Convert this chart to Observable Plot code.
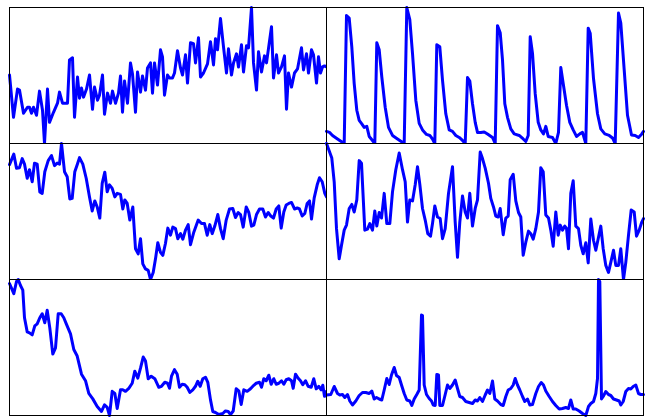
<!DOCTYPE html>
<html><head><meta charset="utf-8">
<script src="https://cdn.jsdelivr.net/npm/d3@7"></script>
<script src="https://cdn.jsdelivr.net/npm/@observablehq/plot@0.6"></script>
<style>
html,body{margin:0;padding:0;background:#fff;}
#chart{position:relative;width:647px;height:417px;background:#fff;overflow:hidden;}
#chart svg{position:absolute;overflow:visible;}
</style></head><body><div id="chart"></div>
<script>
// Each series: [time, value] pairs
const seriesTopLeft = [[0,68],[4,26],[8,54],[10,53],[14,30],[18,36],[20,36],[22,30],[24,36],[27,28],[30,52],[33,33],[35,0],[38,54],[40,21],[44,31],[48,40],[50,51],[53,40],[58,40],[60,83],[63,85],[65,26],[68,66],[70,45],[72,55],[74,46],[77,54],[80,68],[83,34],[85,56],[88,43],[90,48],[93,68],[95,29],[98,50],[101,40],[103,52],[106,40],[109,50],[111,67],[113,31],[115,62],[118,40],[121,80],[123,69],[126,31],[128,71],[131,51],[133,67],[136,53],[138,75],[141,80],[143,50],[145,80],[148,58],[151,93],[153,86],[155,48],[158,68],[160,65],[163,65],[165,70],[168,92],[171,75],[173,68],[176,88],[178,60],[181,100],[184,99],[186,80],[189,105],[191,66],[194,70],[198,79],[201,101],[204,78],[206,104],[208,93],[211,124],[214,96],[217,70],[219,94],[222,68],[224,80],[227,89],[229,76],[232,98],[234,71],[237,97],[239,95],[242,135],[244,80],[247,53],[249,91],[252,71],[255,87],[257,80],[262,116],[264,65],[267,88],[269,70],[272,76],[275,87],[277,34],[279,70],[282,56],[285,70],[288,74],[292,95],[294,73],[297,89],[299,70],[302,93],[304,88],[307,60],[309,86],[311,70],[313,76],[315,77],[317,76]];

const seriesTopRight = [[0,12],[3,11],[6,8],[11,4.5],[17.7,0],[20,127],[22.7,124.5],[25.3,96],[27.7,59.5],[30.3,33],[32.7,23],[35.3,19.5],[37.7,16],[40.3,17],[42.7,7],[46,3],[48.3,0],[50.3,100],[52.7,93],[55.3,66],[58.7,36],[62,16],[66,8],[71,4.5],[77.7,0],[80.3,135],[83.3,123],[86,89.5],[89.3,43],[92.7,20],[96,13.5],[100,9],[103.3,8],[106,4.5],[108.3,0],[110.3,98],[113.3,96],[116,63],[119.3,29.5],[122.7,13.5],[126,12],[129.3,8],[132.7,6],[136,3],[138.7,0],[141,65.5],[143.3,62],[146,39.5],[148.7,21],[151,11],[154.3,11],[157.7,11.5],[161,9.5],[166,6],[168.7,0],[171,117],[173.7,110],[176,83],[178.3,39.5],[181,26],[184.3,14.5],[187.7,9.5],[192.7,8],[196.7,4.5],[199.3,2],[201.7,8],[203.7,106],[206,89.5],[208.7,49.5],[211.7,21],[214.3,13.5],[217,9.5],[219.3,17],[221.7,7],[226,6],[229.3,0],[232,11],[234.3,75.5],[236.7,59.5],[240,38],[243.3,21],[246.7,13.5],[250,7],[253.3,9.5],[256,11],[259.3,0],[261.7,114.5],[263.7,109.5],[267,64.5],[271,29.5],[274.3,14.5],[278.3,9.5],[282.7,8],[286,5.5],[288.7,0],[292,129.5],[294.3,119.5],[297.7,73],[301,28],[305,8.5],[308.7,8],[312,6],[315.3,9.5],[317,12]];

const seriesMidLeft = [[0,114],[4.3,124.5],[7,110.5],[10,111],[12.7,120],[15,114.5],[17.7,100.5],[20,109],[22.7,97],[25,115.5],[27.7,114.5],[30.3,87],[32.7,85.5],[35.3,107],[38.7,118],[42,123],[45,113],[47.7,115.5],[50,114.5],[52,135],[55,107],[57.7,102],[60.3,80],[62.7,80.5],[65.3,107],[67.7,114],[70,121],[73.3,114.5],[76.7,100.5],[80,82],[82.7,68],[85.3,78],[87.7,72],[90.3,61],[92.7,95.5],[95.3,106.5],[97.7,87],[100,94],[102.7,90.5],[105.3,82],[107.7,85.5],[111,84.5],[113.3,70],[115.3,79],[117.7,75.5],[120.3,59],[123.3,72],[126,30.5],[128.7,25.5],[131,40.5],[133.3,15.5],[136,10.5],[138.7,9],[141,0],[143.7,7],[146,20.5],[148.3,36.5],[151,27],[153.3,24],[156,36],[158.3,51],[161,44],[163.3,52],[166,50.5],[168.3,40.5],[171,45.5],[173.3,40],[176,49],[178.7,54.5],[181,34.5],[184.3,47],[188.7,59],[192,55.5],[195,55.5],[197.7,44],[200.3,54.5],[202.7,45.5],[205.3,53],[208.3,64.5],[211,50.5],[213.7,40.5],[216.7,59],[220,70],[223.3,70.5],[226,61.5],[228.7,66.5],[231,64.5],[233.7,52],[236.7,72],[239.3,66.5],[242,53],[244.3,54],[247,64.5],[250,70],[253.3,70],[256,62],[258.7,66.5],[261.3,63],[264,61],[266.7,70],[269.3,73],[271.7,51],[274.3,67],[276.7,74],[279.3,75.5],[282,76.5],[285,70],[287.7,71],[290,70],[292.7,63],[295.3,65.5],[297.7,75.5],[300,78],[302,60],[304.7,81],[307.7,94],[310,101],[312.7,97],[315.3,85.5],[317,82]];

const seriesMidRight = [[0,135],[5.3,120.5],[7.7,97],[10,50.5],[12.7,20.5],[15,34],[17.7,49],[20,54],[22.7,70.5],[25.3,74.5],[27.7,67],[30.3,79],[32.7,118],[35,115.5],[38.3,49],[41,50],[43.3,55.5],[46,49],[48.3,68],[50.3,53],[52.7,66.5],[55,61],[57.7,85.5],[60.3,55.5],[63.3,55.5],[66,87],[69.3,109],[72.7,125.5],[76,109],[78.7,97],[81,57],[83.3,79],[86,78],[88.7,94],[91,112],[93.3,94.5],[96,70.5],[98.7,59],[101.3,45.5],[104,43],[106,55.5],[108.3,73],[111,62],[113.7,60.5],[116,40.5],[118.7,50.5],[122,85.5],[126,112],[128.7,57],[131,22],[133.3,57],[136,83],[138.7,67],[141,61],[143.3,85.5],[146,53],[148.7,70.5],[151,79],[153.7,126.5],[156,120],[158.7,110.5],[162,95.5],[164.3,80.5],[167,72],[169.3,63],[171.7,62],[173.7,70.5],[176.7,44.5],[179.3,61],[181.7,63],[183.7,99],[186.7,104.5],[189.3,78],[192,66.5],[194.3,62],[196.7,24],[199.3,37],[202,48],[204.3,45.5],[206.7,40],[209.3,50.5],[212,67],[214.3,111],[216.7,107],[219.3,64],[222,61],[224.3,49],[226.7,33],[229.3,67],[231.7,44],[233.7,54],[236,49],[238.3,53],[240,51],[242,30.5],[244.3,85.5],[246.7,98],[249.3,53],[252,50.5],[254.3,34],[256.7,25.5],[259.3,36.5],[261.7,16.5],[264.3,60],[267,39],[269.3,29],[271.7,40.5],[274.3,53],[276.7,30.5],[279.3,14],[282,7],[284.3,17],[287,29],[289.3,14],[292,14],[294.3,30.5],[297,0],[299.3,17],[302,44],[304.7,69],[307.7,67],[310,43],[312.7,49],[315.3,57],[317,60.5]];

const seriesBottomLeft = [[0,131],[4.3,121],[7,133],[8.7,135],[11,129],[13.3,124.5],[15,97],[17.7,83],[20,82],[22.7,80],[25.3,89],[27.7,91],[30.3,97],[32.7,101],[35.3,92],[37.7,104.5],[40.3,87],[43.3,61],[46,67],[48.7,101],[51.7,101],[54.3,97],[57,90.5],[61,81],[64.3,65.5],[67.7,59],[72,41],[76,34.5],[79.3,22],[83.3,16.5],[87.7,9],[92,4],[95,10.5],[97.7,8],[100,0],[102.7,24],[105.3,22],[107.7,7],[111,25.5],[113.3,25.5],[116,24],[119.3,27],[122.7,32],[125.3,44],[128.3,37],[131,47],[133.7,58],[136,54],[138.7,36.5],[141.7,39],[145.3,36.5],[149.3,28],[152,29],[155.3,33],[158,32],[160,27],[162,39],[165,45.5],[167.7,41],[170,28],[172.7,31],[175.3,30.5],[177.7,28],[180.3,23],[183.3,25.5],[186,29],[188.3,34],[190.7,29],[193.3,36.5],[196,38],[198.3,33],[201,15.5],[203.3,4],[206,3],[209.3,1],[213.3,2],[216,4.5],[218.7,4],[221,1],[223.7,4.5],[226.7,26.5],[229.3,24.5],[231.7,11],[234.3,25.5],[237.7,24],[241,26.5],[244.3,30],[246.7,32],[250,33],[252,28],[254.3,36.5],[256.7,34.5],[259.3,40],[261.7,31],[264.3,36.5],[266.7,31],[269.3,32],[272,34.5],[274.3,31],[276.7,35.5],[279.3,36.5],[282,34.5],[283.7,27],[286,41],[288.7,37],[291,34.5],[293.3,30.5],[296,34.5],[298.7,29],[301.7,28],[304.3,36.5],[306.7,26.5],[309.3,29],[311.7,25.5],[313.3,30],[315,19],[317,24]];

const seriesBottomRight = [[0,20.5],[4.3,21],[7.7,29],[11,22],[13.3,20.5],[16,21],[18.3,18],[21,21],[23.3,14.5],[26,10.5],[29.3,14.5],[32.7,20],[36,23],[39.3,23],[42.7,22],[45.3,24.5],[47.7,16.5],[50,18],[52.7,16.5],[55.3,15.5],[57.7,25.5],[60.3,37],[62.7,31],[65,40.5],[67.7,48],[70,40],[72.7,38],[75,30.5],[77.7,22],[80.3,15.5],[83.3,14.5],[85.3,10],[87.7,16.5],[90.3,21],[92.7,25.5],[95,100.5],[96,100],[97.7,30.5],[100,21],[102.7,17],[105,14.5],[106.7,10.5],[108.7,10],[110.3,41],[112,40.5],[113.3,10],[116,10],[118.7,21],[121,30.5],[123.3,27],[126,30.5],[128.7,35.5],[131,27],[133.3,19],[136,18],[139.3,14],[142.7,13],[146,12],[148.7,15.5],[151,14.5],[153.3,18],[156,14],[158.7,20.5],[161,25.5],[163.3,22],[166,34.5],[168.3,16.5],[171,14.5],[174.3,11],[176.7,10],[179.3,19],[181.7,25.5],[184.3,27],[186.7,30.5],[188.7,37],[191,30.5],[193.3,25.5],[196,19],[198.3,14],[201,16.5],[203.3,10.5],[206,11],[209.3,22],[212,29],[214.7,33],[217,30.5],[219.3,24.5],[222.7,19],[226,14],[229.3,10],[232.7,6.5],[236,7],[239.3,8],[242,7],[244.3,15.5],[246.7,6.5],[249.3,6.5],[252.7,4.5],[256,2],[259.3,0],[262,9],[264.3,12],[267,14],[269.3,22],[271,37],[272,136],[273.3,134],[275,16.5],[276.7,19],[279.3,24],[282,21],[284.3,20],[287,16.5],[290,15.5],[292.7,14.5],[294.3,10.5],[296.7,14],[299.3,24],[302,27],[304.3,26.5],[306.7,29],[309.3,30.5],[312,22],[314.3,21],[317,21]];

const grid = [
  [seriesTopLeft, seriesTopRight],
  [seriesMidLeft, seriesMidRight],
  [seriesBottomLeft, seriesBottomRight]
];

const W = 317, H = 136;
const lefts = [9, 326];
const tops = [7, 143, 279];
const chart = document.getElementById("chart");

grid.forEach((row, r) => {
  row.forEach((series, c) => {
    const svg = Plot.plot({
      width: W,
      height: H,
      margin: 0,
      style: {background: "white", overflow: "visible"},
      x: {axis: null, domain: d3.extent(series, d => d[0])},
      y: {axis: null, domain: d3.extent(series, d => d[1])},
      marks: [
        Plot.line(series, {x: d => d[0], y: d => d[1], stroke: "#0000ff", strokeWidth: 3}),
        Plot.frame({stroke: "black", strokeWidth: 1})
      ]
    });
    svg.style.left = lefts[c] + "px";
    svg.style.top = tops[r] + "px";
    svg.style.position = "absolute";
    svg.style.maxWidth = "none";
    chart.appendChild(svg);
  });
});
</script>
</body></html>
